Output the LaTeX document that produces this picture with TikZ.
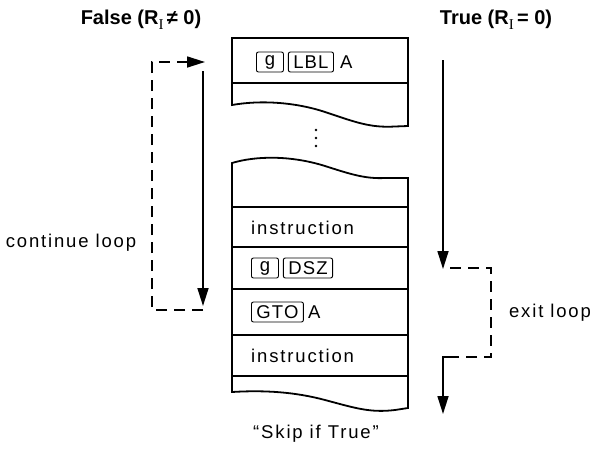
\documentclass[tikz,border=0pt]{standalone}
\usepackage{fontspec}
\setmainfont{Liberation Sans}
\newfontfamily\serifI{Liberation Serif}
\usetikzlibrary{arrows.meta}
\begin{document}
\begin{tikzpicture}[x=1pt,y=-1pt,
  boxline/.style={line width=1.8pt, line join=miter},
  flowarrow/.style={line width=1.7pt,-{Triangle[length=18pt,width=11pt]}},
  dashline/.style={line width=1.7pt, dash pattern=on 11pt off 7pt},
  txt/.style={inner sep=0pt, font=\fontsize{18.5}{21}\selectfont\addfontfeature{LetterSpace=10}},
  lbl/.style={inner sep=0pt, font=\fontsize{20}{22}\selectfont\bfseries},
  keybox/.style={draw, line width=0.9pt, rounded corners=2pt, minimum height=20pt, minimum width=27pt, inner xsep=5pt, inner ysep=0pt,
     font=\fontsize{18.5}{21}\selectfont\addfontfeature{LetterSpace=6}},
]
\useasboundingbox (0,0) rectangle (592,448);
% block 1
\draw[boxline] (232,105) -- (232,38) -- (408,38) -- (408,126)
  -- (395,126.5) .. controls (370,128) and (355,122) .. (325,112)
  .. controls (295,102) and (260,100) .. (232,105) -- cycle;
\draw[boxline] (232,83) -- (408,83);
% dots
\foreach \yy in {130,138,146} \fill (316,\yy) circle (1.4);
% block 2
\draw[boxline] (232,392) -- (232,163) .. controls (255,156) and (290,155) .. (325,166)
  .. controls (350,174) and (365,179) .. (385,178) -- (408,178) -- (408,408)
  -- (395,410) .. controls (370,413) and (355,408) .. (325,400)
  .. controls (295,392) and (265,390) .. (232,392) -- cycle;
\foreach \yy in {207,247,289,335,376} \draw[boxline] (232,\yy) -- (408,\yy);
% row contents
\node[keybox, anchor=west] (g1) at (256,62) {g};
\node[keybox, anchor=west] (lbl) at ([xshift=4pt]g1.east) {LBL};
\node[txt, anchor=west] (a1) at ([xshift=6pt]lbl.east) {A};
\node[txt, anchor=west] (ins1) at (251,228) {instruction};
\node[keybox, anchor=west] (g2) at (251,268) {g};
\node[keybox, anchor=west] (dsz) at ([xshift=4pt]g2.east) {DSZ};
\node[keybox, anchor=west] (gto) at (251,312) {GTO};
\node[txt, anchor=west] (a2) at ([xshift=4pt]gto.east) {A};
\node[txt, anchor=west] (ins2) at (251,356) {instruction};
% labels
\node[lbl] (false) at (141,20) {False (R\raisebox{-5pt}{\fontsize{15}{15}\selectfont\serifI\mdseries I}\,≠ 0)};
\node[lbl] (true) at (496,20) {True (R\raisebox{-5pt}{\fontsize{15}{15}\selectfont\serifI\mdseries I}\,= 0)};
\node[txt] (cont) at (71,243) {continue loop};
\node[txt] (exit) at (550,313) {exit loop};
\node[txt] (skip) at (316,434) {“Skip if True”};
% left loop
\coordinate (ls) at (203,71);
\coordinate (le) at (203,306);
\coordinate (d1) at (203,310);
\coordinate (d2) at (152,310);
\coordinate (d3) at (152,62);
\coordinate (d4) at (205,62);
\draw[flowarrow] (ls) -- (le);
\draw[dashline] (d1) -- (d2) -- (d3) -- (188,62);
\draw[flowarrow] (186,62) -- (d4);
% right exit
\coordinate (rs) at (443,60);
\coordinate (re) at (443,269);
\coordinate (e1) at (450,268);
\coordinate (e2) at (491,268);
\coordinate (e3) at (491,357);
\coordinate (e4) at (456,357);
\coordinate (e5) at (443,414);
\draw[flowarrow] (rs) -- (re);
\draw[dashline] (e1) -- (e2) -- (e3) -- (e4);
\draw[flowarrow] (e4) -| (e5);
\end{tikzpicture}
\end{document}
